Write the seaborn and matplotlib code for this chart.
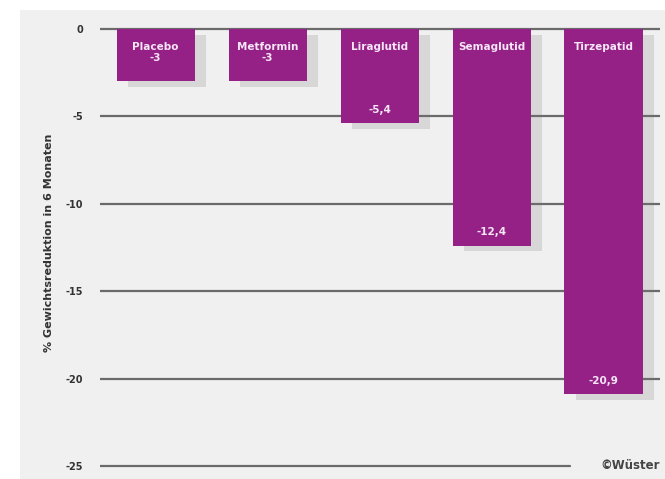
import matplotlib
matplotlib.use("Agg")
import matplotlib.pyplot as plt
import matplotlib.patheffects as pe
from matplotlib.patches import Rectangle
import seaborn as sns
import pandas as pd

categories = ["Placebo", "Metformin", "Liraglutid", "Semaglutid", "Tirzepatid"]
values = [-3, -3, -5.4, -12.4, -20.9]
value_labels = ["-3", "-3", "-5,4", "-12,4", "-20,9"]
y_ticks = [0, -5, -10, -15, -20, -25]
y_label = "% Gewichtsreduktion in 6 Monaten"
credit = "©Wüster"

sns.set_style("white")
plt.rcParams['font.family'] = ['DejaVu Sans']

fig = plt.figure(figsize=(6.65, 4.79), dpi=100)
fig.patch.set_facecolor("white")
# light gray panel background
bg = Rectangle((0.03, 0.0), 0.97, 0.98, transform=fig.transFigure,
               facecolor="#f0f0f0", edgecolor="none", zorder=-10)
fig.patches.append(bg)

ax = fig.add_axes([0.150, 0.009, 0.842, 0.967])
ax.set_zorder(5)
ax.set_facecolor("none")

df = pd.DataFrame({"cat": categories, "val": values})
bar_color = "#952187"
sns.barplot(data=df, x="cat", y="val", color=bar_color, width=0.7,
            saturation=1, linewidth=0, edgecolor=bar_color, ax=ax, zorder=3)

for p in ax.patches:
    p.set_path_effects([pe.SimplePatchShadow(offset=(8, -4), shadow_rgbFace="#777777", alpha=0.2),
                        pe.Normal()])

ax.set_ylim(-25.5, 1.0)
ax.set_xlim(-0.5, 4.5)
ax.set_yticks(y_ticks)
ax.set_yticklabels([str(t) for t in y_ticks], fontsize=7, fontweight="bold", color="#333333")
ax.tick_params(axis="y", length=0, pad=12)
ax.set_xticks([])
ax.set_xlabel("")
ax.set_ylabel(y_label, fontsize=8, fontweight="bold", color="#333333", labelpad=8)
for s in ax.spines.values():
    s.set_visible(False)

for t in y_ticks:
    xmax = 0.84 if t == -25 else 1.0
    ax.axhline(t, xmin=0, xmax=xmax, color="#6a6a6a", linewidth=1.6, zorder=1)

text_color = "#f6e6f6"
for i, (c, v, lab) in enumerate(zip(categories, values, value_labels)):
    if v > -4:
        ax.text(i, -0.75, c + "\n" + lab, ha="center", va="top", fontsize=7.5,
                fontweight="bold", color=text_color, zorder=5, linespacing=1.1)
    else:
        ax.text(i, -0.75, c, ha="center", va="top", fontsize=7.5,
                fontweight="bold", color=text_color, zorder=5)
        ax.text(i, v + 0.5, lab, ha="center", va="bottom", fontsize=7.5,
                fontweight="bold", color=text_color, zorder=5)

ax.text(1.0, -25, credit, transform=ax.get_yaxis_transform(), ha="right", va="center",
        fontsize=8.5, fontweight="bold", color="#444444")

fig.savefig("out.png", dpi=100)
